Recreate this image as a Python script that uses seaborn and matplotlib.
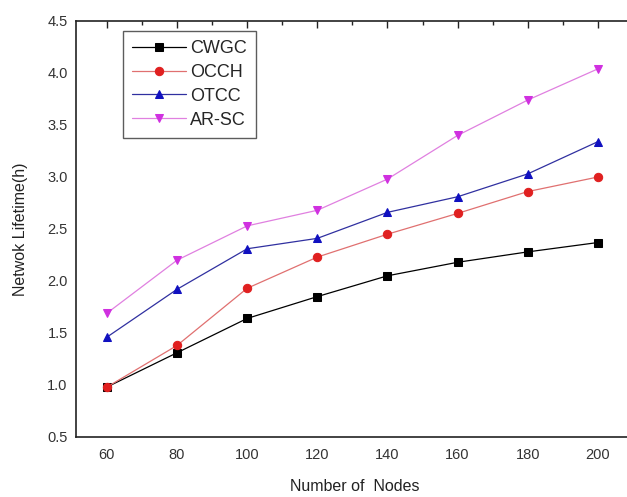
import matplotlib
matplotlib.use("Agg")
import matplotlib.pyplot as plt
import seaborn as sns
import pandas as pd
from matplotlib.ticker import MultipleLocator

nodes = [60, 80, 100, 120, 140, 160, 180, 200]
cwgc = [0.98, 1.31, 1.64, 1.85, 2.05, 2.18, 2.28, 2.37]
occh = [0.98, 1.38, 1.93, 2.23, 2.45, 2.65, 2.86, 3.00]
otcc = [1.46, 1.92, 2.31, 2.41, 2.66, 2.81, 3.03, 3.34]
arsc = [1.69, 2.20, 2.53, 2.68, 2.98, 3.40, 3.74, 4.04]

series = [
    ("CWGC", cwgc, "s", "#000000", "#000000"),
    ("OCCH", occh, "o", "#e02020", "#e07070"),
    ("OTCC", otcc, "^", "#1010c0", "#3030a0"),
    ("AR-SC", arsc, "v", "#d030e0", "#e080e0"),
]

sns.set_style("white")
plt.rcParams["font.family"] = ["Liberation Sans", "DejaVu Sans"]

fig = plt.figure(figsize=(6.27, 4.97), dpi=100)
W, H = 627, 497
left, right, top, bottom = 76, 633, 21, 437
ax = fig.add_axes([left / W, (H - bottom) / H, (right - left) / W, (bottom - top) / H])

for name, vals, mk, mc, lc in series:
    df = pd.DataFrame({"x": nodes, "y": vals})
    sns.lineplot(data=df, x="x", y="y", ax=ax, color=lc, linewidth=0.9,
                 marker=mk, markersize=6, markerfacecolor=mc, markeredgecolor=mc,
                 label=name)

ax.set_xlim(51.2, 210)
ax.set_ylim(0.5, 4.5)
ax.xaxis.set_major_locator(MultipleLocator(20))
ax.xaxis.set_minor_locator(MultipleLocator(10))
ax.yaxis.set_major_locator(MultipleLocator(0.5))
ax.yaxis.set_minor_locator(MultipleLocator(0.25))
ax.yaxis.set_major_formatter(matplotlib.ticker.FormatStrFormatter("%.1f"))
ax.tick_params(which="both", direction="in", top=True, right=False, labelsize=10.5, colors="#222222")
ax.tick_params(which="major", length=5, width=1)
ax.tick_params(which="minor", length=3, width=1)
ax.tick_params(axis="x", pad=8)
ax.tick_params(axis="y", pad=6)
ax.tick_params(axis="both", labelcolor="#333333")
for s in ax.spines.values():
    s.set_color("#222222")
    s.set_linewidth(1.2)
ax.set_xlabel("Number of  Nodes", fontsize=11.5, color="#222222", labelpad=12)
ax.set_ylabel("Netwok Lifetime(h)", fontsize=11.5, color="#222222", labelpad=14)

leg = ax.legend(loc="upper left", bbox_to_anchor=((123 - left) / (right - left), 1 - (31 - top) / (bottom - top)),
                fontsize=13, frameon=True, fancybox=False, edgecolor="#333333",
                handlelength=3.0, handletextpad=0.2, labelspacing=0.38, borderpad=0.5, borderaxespad=0)
leg.get_frame().set_linewidth(1.0)

fig.savefig("out.png", dpi=100)
